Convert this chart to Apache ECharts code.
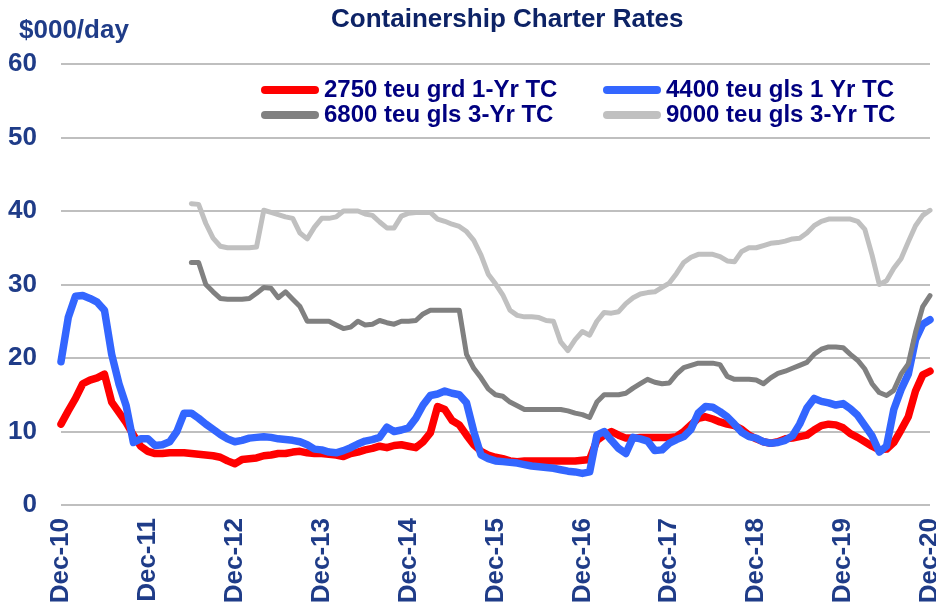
<!DOCTYPE html>
<html>
<head>
<meta charset="utf-8">
<script src="https://cdn.jsdelivr.net/npm/echarts@6/dist/echarts.min.js"></script>
<style>
html,body{margin:0;padding:0;background:#fff;}
#chart{width:936px;height:609px;}
</style>
</head>
<body>
<div id="chart"></div>
<script>
// Monthly categories Dec-10 .. Dec-20
const monthNames = ['Jan','Feb','Mar','Apr','May','Jun','Jul','Aug','Sep','Oct','Nov','Dec'];
const categories = [];
for (let k = 0; k <= 120; k++) {
  const m = (11 + k) % 12;
  const y = 10 + Math.floor((11 + k) / 12);
  categories.push(monthNames[m] + '-' + String(y).padStart(2, '0'));
}
const yTicks = [0, 10, 20, 30, 40, 50, 60];
const seriesNames = ['2750 teu grd 1-Yr TC', '4400 teu gls 1 Yr TC', '6800 teu gls 3-Yr TC', '9000 teu gls 3-Yr TC'];

const red2750 = [
  11.0,12.8,14.5,16.5,17.0,17.3,17.8,14.0,12.6,11.2,9.5,8.0,
  7.3,7.0,7.0,7.1,7.1,7.1,7.0,6.9,6.8,6.7,6.5,6.0,
  5.6,6.2,6.3,6.4,6.7,6.8,7.0,7.0,7.2,7.3,7.1,7.0,
  7.0,6.9,6.8,6.6,7.0,7.2,7.5,7.7,8.0,7.8,8.1,8.2,
  8.0,7.8,8.6,9.8,13.4,13.0,11.5,10.9,9.5,8.2,7.3,6.8,
  6.5,6.3,6.0,5.9,6.0,6.0,6.0,6.0,6.0,6.0,6.0,6.0,
  6.1,6.2,8.8,9.5,10.0,9.5,9.1,9.1,9.2,9.2,9.2,9.2,
  9.2,9.3,10.0,10.9,11.8,12.0,11.7,11.3,11.0,10.8,10.3,9.5,
  9.0,8.6,8.4,8.6,9.0,9.1,9.3,9.5,10.2,10.8,11.0,10.9,
  10.5,9.7,9.2,8.6,8.0,7.5,7.6,8.5,10.2,12.0,15.5,17.7,
  18.2
];
const blue4400 = [
  19.5,25.5,28.4,28.5,28.1,27.6,26.5,20.5,16.5,13.5,8.5,9.0,
  9.0,8.1,8.2,8.6,10.0,12.5,12.5,11.8,11.0,10.3,9.6,9.0,
  8.6,8.8,9.1,9.2,9.3,9.2,9.0,8.9,8.8,8.6,8.2,7.6,
  7.5,7.2,7.1,7.4,7.8,8.3,8.7,8.9,9.2,10.6,10.0,10.2,
  10.5,11.8,13.6,14.9,15.1,15.5,15.2,15.0,13.9,10.0,6.8,6.3,
  6.0,5.9,5.8,5.7,5.5,5.3,5.2,5.1,5.0,4.8,4.6,4.5,
  4.3,4.5,9.5,10.0,8.8,7.7,7.0,9.2,9.0,8.7,7.4,7.5,
  8.4,8.9,9.3,10.3,12.5,13.4,13.3,12.7,12.0,11.0,9.9,9.3,
  9.1,8.6,8.4,8.5,8.8,9.4,11.0,13.2,14.5,14.1,13.9,13.6,
  13.8,13.1,12.2,10.8,9.4,7.2,8.0,13.0,15.7,17.8,22.5,24.6,
  25.2
];
const gray6800 = [
  null,null,null,null,null,null,null,null,null,null,null,null,
  null,null,null,null,null,null,33.0,33.0,30.0,29.0,28.1,28.0,
  28.0,28.0,28.1,28.8,29.6,29.5,28.2,29.0,28.0,27.0,25.0,25.0,
  25.0,25.0,24.5,24.0,24.2,25.0,24.5,24.6,25.1,24.8,24.6,25.0,
  25.0,25.1,26.0,26.5,26.5,26.5,26.5,26.5,20.5,18.6,17.3,15.8,
  15.0,14.8,14.0,13.5,13.0,13.0,13.0,13.0,13.0,13.0,12.8,12.5,
  12.3,11.9,14.0,15.0,15.0,15.0,15.2,15.9,16.5,17.1,16.7,16.5,
  16.6,17.8,18.7,19.0,19.3,19.3,19.3,19.1,17.5,17.1,17.1,17.1,
  17.0,16.5,17.3,17.9,18.2,18.6,19.0,19.4,20.5,21.2,21.5,21.5,
  21.4,20.5,19.7,18.5,16.5,15.3,14.9,15.6,17.8,19.2,23.5,27.0,
  28.5
];
const lgray9000 = [
  null,null,null,null,null,null,null,null,null,null,null,null,
  null,null,null,null,null,null,41.0,40.9,38.3,36.3,35.2,35.0,
  35.0,35.0,35.0,35.1,40.1,39.8,39.5,39.2,39.0,37.0,36.2,37.8,
  39.0,39.0,39.2,40.0,40.0,40.0,39.6,39.4,38.5,37.7,37.7,39.3,
  39.7,39.8,39.8,39.8,38.9,38.6,38.2,37.9,37.2,36.0,34.0,31.4,
  30.1,28.6,26.5,25.8,25.6,25.6,25.5,25.1,25.0,22.2,21.0,22.5,
  23.6,23.1,25.0,26.2,26.1,26.3,27.4,28.2,28.7,28.9,29.0,29.6,
  30.2,31.5,33.0,33.7,34.1,34.1,34.1,33.8,33.2,33.1,34.5,35.0,
  35.0,35.3,35.6,35.7,35.9,36.2,36.3,37.0,38.0,38.6,38.9,38.9,
  38.9,38.9,38.6,37.5,34.0,30.0,30.5,32.2,33.5,35.8,38.0,39.4,
  40.1
];

const seriesData = [red2750, blue4400, gray6800, lgray9000];
const colors = ['#FF0000', '#3366FF', '#808080', '#C0C0C0'];
const widths = [7.5, 7.5, 5, 5];
const FONT = 'Liberation Sans, Arial, sans-serif';
const capsule = 'path://M4,0 L54,0 A4,4 0 0 1 54,8 L4,8 A4,4 0 0 1 4,0 Z';

const legendPos = [
  {left: 261, top: 78},
  {left: 603, top: 78},
  {left: 261, top: 103},
  {left: 603, top: 103}
];

const chart = echarts.init(document.getElementById('chart'), null, {renderer: 'canvas'});
chart.setOption({
  animation: false,
  backgroundColor: '#ffffff',
  title: [
    {
      text: 'Containership Charter Rates',
      left: 331, top: 7, padding: 0,
      textStyle: {fontFamily: FONT, fontSize: 26, fontWeight: 'bold', color: '#0D2366'}
    },
    {
      text: '$000/day',
      left: 19, top: 18, padding: 0,
      textStyle: {fontFamily: FONT, fontSize: 26, fontWeight: 'bold', color: '#1F3C88'}
    }
  ],
  legend: seriesNames.map((n, i) => ({
    data: [n],
    left: legendPos[i].left,
    top: legendPos[i].top,
    padding: 0,
    orient: 'horizontal',
    icon: capsule,
    itemWidth: 58,
    itemHeight: 8,
    selectedMode: false,
    textStyle: {fontFamily: FONT, fontSize: 24, fontWeight: 'bold', color: '#000080'}
  })),
  grid: {left: 61, right: 6, top: 64, bottom: 104, outerBoundsMode: 'none', containLabel: false},
  xAxis: {
    type: 'category',
    data: categories,
    boundaryGap: false,
    axisLine: {show: false},
    axisTick: {show: false},
    splitLine: {show: false},
    axisLabel: {
      interval: 11,
      rotate: 90,
      margin: 13,
      fontFamily: FONT,
      fontSize: 26,
      fontWeight: 'bold',
      color: '#1F3C88'
    }
  },
  yAxis: {
    type: 'value',
    min: yTicks[0],
    max: yTicks[yTicks.length - 1],
    interval: 10,
    axisLine: {show: false},
    axisTick: {show: false},
    splitLine: {show: true, lineStyle: {color: '#BFBFBF', width: 2}},
    axisLabel: {
      margin: 24,
      fontFamily: FONT,
      fontSize: 26,
      fontWeight: 'bold',
      color: '#1F3C88'
    }
  },
  series: seriesNames.map((n, i) => ({
    name: n,
    type: 'line',
    data: seriesData[i],
    showSymbol: false,
    symbol: 'none',
    connectNulls: false,
    color: colors[i],
    itemStyle: {color: colors[i]},
    lineStyle: {color: colors[i], width: widths[i], cap: 'round', join: 'round'}
  }))
});
</script>
</body>
</html>
